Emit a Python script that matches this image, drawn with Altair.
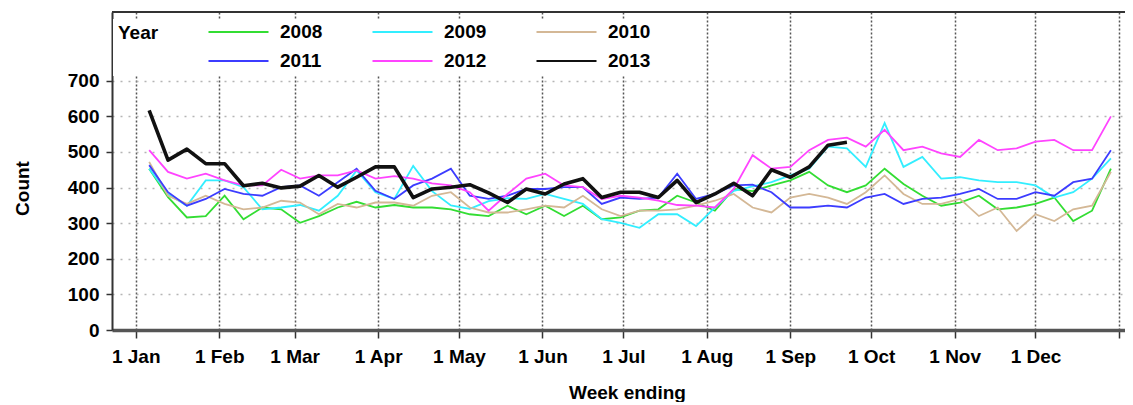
import altair as alt
import pandas as pd

years = ["2008", "2009", "2010", "2011", "2012", "2013"]
line_colors = ["#33dd33", "#33eeff", "#d4b896", "#3c3cff", "#ff44ff", "#111111"]

# week-ending dates, shown on a common calendar year
week_ending = [d.strftime("%Y-%m-%d") for d in pd.date_range("2013-01-06", periods=52, freq="7D")]

count_2008 = [453, 373, 316, 320, 377, 311, 344, 339, 301, 320, 344, 360, 344,
              351, 344, 344, 339, 325, 320, 349, 325, 349, 320, 349, 311, 316,
              335, 339, 377, 358, 335, 396, 390, 406, 420, 444, 406, 387, 406,
              453, 410, 377, 349, 358, 377, 339, 344, 354, 372, 306, 335, 453]
count_2009 = [453, 382, 349, 420, 420, 401, 339, 344, 351, 335, 377, 448, 387,
              368, 461, 390, 350, 340, 362, 370, 368, 382, 368, 354, 311, 301,
              287, 325, 325, 292, 344, 391, 403, 415, 434, 453, 515, 510, 458,
              581, 458, 486, 425, 429, 420, 415, 415, 406, 372, 387, 425, 482]
count_2010 = [472, 377, 354, 377, 354, 339, 344, 363, 358, 325, 354, 344, 358,
              358, 349, 377, 387, 344, 330, 330, 339, 349, 344, 377, 339, 320,
              335, 335, 339, 349, 363, 382, 344, 330, 372, 382, 372, 354, 387,
              434, 382, 354, 354, 368, 320, 344, 278, 325, 306, 339, 349, 444]
count_2011 = [463, 387, 349, 368, 396, 382, 377, 401, 406, 377, 415, 453, 391,
              368, 406, 425, 453, 377, 368, 377, 396, 396, 401, 401, 354, 372,
              368, 372, 439, 368, 382, 406, 408, 387, 344, 344, 349, 344, 372,
              382, 354, 368, 372, 382, 396, 368, 368, 387, 377, 415, 425, 505]
count_2012 = [505, 444, 425, 439, 420, 406, 406, 450, 425, 434, 434, 448, 425,
              432, 425, 412, 406, 387, 335, 382, 425, 439, 406, 401, 368, 377,
              372, 363, 351, 349, 344, 396, 491, 453, 458, 505, 534, 540, 515,
              562, 505, 515, 496, 486, 534, 505, 510, 529, 534, 505, 505, 600]
count_2013 = [617, 477, 508, 467, 467, 405, 412, 399, 404, 434, 401, 429, 458,
              458, 372, 396, 401, 408, 385, 358, 396, 382, 410, 425, 372, 387,
              387, 372, 420, 358, 382, 412, 377, 450, 429, 458, 519, 527]

y_ticks = [0, 100, 200, 300, 400, 500, 600, 700]
month_ticks = [alt.DateTime(year=2013, month=m, date=1, utc=True) for m in range(1, 13)] + [
    alt.DateTime(year=2014, month=1, date=1, utc=True)]
x_domain = [alt.DateTime(year=2012, month=12, date=23, hours=4, minutes=48, utc=True),
            alt.DateTime(year=2014, month=1, date=3, hours=5, minutes=30, utc=True)]

series = [count_2008, count_2009, count_2010, count_2011, count_2012, count_2013]
rows = []
for yr, vals in zip(years, series):
    for d, v in zip(week_ending, vals):
        rows.append({"week": d, "count": v, "year": yr})
df = pd.DataFrame(rows)

W, H = 1013, 318
FONT = "Liberation Sans"

x_enc = alt.X("week:T",
              scale=alt.Scale(type="utc", domain=x_domain, nice=False),
              axis=alt.Axis(values=month_ticks, format="%-d %b",
                            labelExpr="utcyear(datum.value) >= 2014 ? '' : datum.label",
                            title="Week ending", titleX=515, titleY=62,
                            titleBaseline="middle", titleFontSize=19, titleFontWeight="bold",
                            titleColor="black",
                            labelFontSize=19, labelFontWeight="bold", labelColor="black",
                            labelPadding=9, tickSize=8, tickColor="#333", tickWidth=1.5,
                            domainColor="#555", domainWidth=3.5,
                            grid=True, gridColor="#555", gridDash=[2, 2], gridWidth=1.5))
y_enc = alt.Y("count:Q",
              scale=alt.Scale(domain=[0, 893], nice=False),
              axis=alt.Axis(values=y_ticks, title="Count", titleX=-90, titleY=176,
                            titleBaseline="middle", titleFontSize=19, titleFontWeight="bold",
                            titleColor="black",
                            labelFontSize=19, labelFontWeight="bold", labelColor="black",
                            labelPadding=7, tickSize=6, tickColor="#333", tickWidth=1.5,
                            domainColor="#333", domainWidth=2,
                            grid=True, gridColor="#b5b5b5", gridDash=[2, 6], gridWidth=1.5))
color_enc = alt.Color("year:N",
                      scale=alt.Scale(domain=years, range=line_colors),
                      legend=alt.Legend(orient="none", legendX=1, legendY=7, columns=3,
                                        direction="horizontal",
                                        title="Year", titleOrient="left", titlePadding=48,
                                        titleAnchor="start", titleBaseline="top",
                                        titleFontSize=19, titleFontWeight="bold", titleColor="black",
                                        labelFontSize=19, labelFontWeight="bold", labelColor="black",
                                        labelOffset=10, symbolType="stroke", symbolSize=3600,
                                        symbolStrokeWidth=2.2, clipHeight=16, rowPadding=10,
                                        columnPadding=48, padding=5, fillColor="white"))

base = alt.Chart(df).encode(x=x_enc, y=y_enc, color=color_enc)

older = base.transform_filter(alt.datum.year != "2013").mark_line(strokeWidth=1.8)
current = base.transform_filter(alt.datum.year == "2013").mark_line(strokeWidth=3.6, strokeJoin="round")

top_rule = alt.Chart(pd.DataFrame({"edge": [0]})).mark_rule(color="#333", strokeWidth=2).encode(
    x=alt.value(0), x2=alt.value(W), y=alt.value(0)
)

chart = alt.layer(older, current, top_rule).properties(
    width=W, height=H,
    autosize=alt.AutoSizeParams(type="none"),
    padding={"left": 104, "top": 4, "right": 0, "bottom": 72},
).configure(font=FONT).configure_view(stroke=None)

chart.save("out.html", embed_options={"renderer": "svg", "actions": False})
